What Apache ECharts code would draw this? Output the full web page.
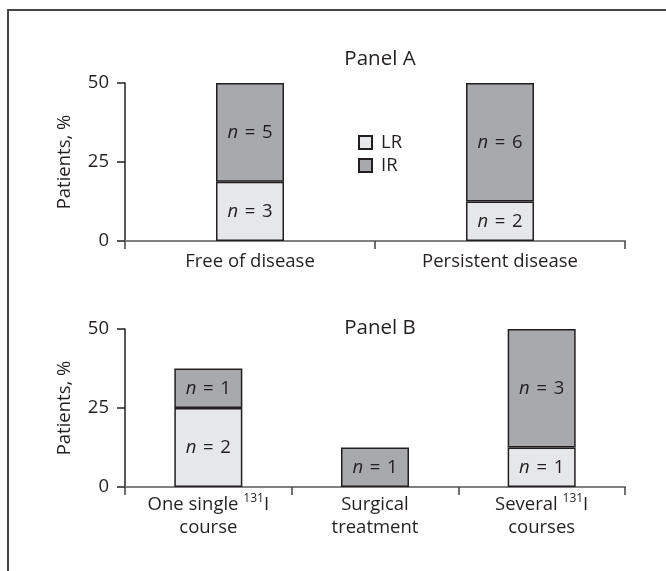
<!DOCTYPE html>
<html>
<head>
<meta charset="utf-8">
<script src="https://cdn.jsdelivr.net/npm/echarts@6/dist/echarts.min.js"></script>
<style>
  html, body { margin: 0; padding: 0; background: #fff; }
  #chart { width: 666px; height: 571px; }
</style>
</head>
<body>
<div id="chart"></div>
<script>
// panel A: outcome
const categoriesA = ['Free of disease', 'Persistent disease']
const lrA = [18.75, 12.5]
const irA = [31.25, 37.5]
const lrCountA = [3, 2]
const irCountA = [5, 6]

// panel B: treatment
const categoriesB = ['One single {sup|131}I\ncourse', 'Surgical\ntreatment', 'Several {sup|131}I\ncourses']
const lrB = [25, null, 12.5]
const irB = [12.5, 12.5, 37.5]
const lrCountB = [2, null, 1]
const irCountB = [1, 1, 3]

const yTicks = [0, 25, 50]

const FONT = '"Open Sans", "Noto Sans", sans-serif'
const FS = 18.5
const INK = '#231f20'
const LR_COLOR = '#e6e7e8'
const IR_COLOR = '#a7a9ac'

const chart = echarts.init(document.getElementById('chart'))

function nLabel(counts) {
  return {
    show: true,
    position: 'inside',
    fontFamily: FONT,
    fontSize: FS,
    color: INK,
    // hair spaces: the original sets "n = 5" slightly wider than normal spaces
    formatter: p => counts[p.dataIndex] == null ? '' : '{i|n} \u200a=\u200a ' + counts[p.dataIndex],
    rich: {
      i: { fontStyle: 'italic', fontFamily: FONT, fontSize: FS, color: INK },
    },
  }
}

function barSeries(name, data, counts, color, idx) {
  return {
    name: name,
    type: 'bar',
    stack: 'p' + idx,
    xAxisIndex: idx,
    yAxisIndex: idx,
    barWidth: 68,
    data: data,
    itemStyle: {
      color: color,
      borderColor: INK,
      borderWidth: 1.5,
    },
    label: nLabel(counts),
    emphasis: { disabled: true },
    animation: false,
  }
}

function xAxis(cats, idx) {
  return {
    type: 'category',
    gridIndex: idx,
    data: cats,
    axisLine: { lineStyle: { color: '#808080', width: 2 } },
    axisTick: { show: true, length: 8, lineStyle: { color: '#444', width: 1.5 } },
    axisLabel: {
      interval: 0,
      fontFamily: FONT,
      fontSize: FS,
      color: INK,
      margin: idx === 0 ? 9 : 6,
      lineHeight: 23,
      rich: {
        sup: { fontFamily: FONT, fontSize: 12, color: INK, verticalAlign: 'top', lineHeight: 23 },
      },
    },
  }
}

function yAxis(idx) {
  return {
    type: 'value',
    gridIndex: idx,
    min: yTicks[0],
    max: yTicks[yTicks.length - 1],
    interval: yTicks[1] - yTicks[0],
    name: 'Patients, %',
    nameLocation: 'middle',
    nameRotate: 90,
    nameGap: 51,
    nameTextStyle: { fontFamily: FONT, fontSize: FS, color: INK },
    axisLine: { show: true, lineStyle: { color: INK, width: 1.5 } },
    axisTick: { show: true, length: 8, lineStyle: { color: INK, width: 1.5 } },
    axisLabel: { fontFamily: FONT, fontSize: FS, color: INK, margin: 16 },
    splitLine: { show: false },
  }
}

chart.setOption({
  backgroundColor: '#fff',
  animation: false,
  title: [
    {
      text: 'Panel A',
      left: 375,
      top: 44,
      textAlign: 'center',
      textStyle: { fontFamily: FONT, fontSize: 20.5, fontWeight: 'normal', color: INK },
    },
    {
      text: 'Panel B',
      left: 375,
      top: 313,
      textAlign: 'center',
      textStyle: { fontFamily: FONT, fontSize: 20.5, fontWeight: 'normal', color: INK },
    },
  ],
  legend: {
    data: ['LR', 'IR'],
    orient: 'vertical',
    left: 353,
    top: 128,
    itemWidth: 13,
    itemHeight: 13,
    itemGap: 4,
    icon: 'rect',
    selectedMode: false,
    textStyle: { fontFamily: FONT, fontSize: FS, color: INK, padding: [0, 0, 0, 4] },
  },
  grid: [
    { left: 125, right: 41, top: 83, bottom: 330 },
    { left: 125, right: 41, top: 329, bottom: 84 },
  ],
  xAxis: [xAxis(categoriesA, 0), xAxis(categoriesB, 1)],
  yAxis: [yAxis(0), yAxis(1)],
  series: [
    barSeries('LR', lrA, lrCountA, LR_COLOR, 0),
    barSeries('IR', irA, irCountA, IR_COLOR, 0),
    barSeries('LR', lrB, lrCountB, LR_COLOR, 1),
    barSeries('IR', irB, irCountB, IR_COLOR, 1),
  ],
  graphic: [
    {
      type: 'polyline',
      shape: { points: [[8, 571], [8, 10], [666, 10]] },
      style: { stroke: '#444', lineWidth: 2, fill: null },
    },
  ],
})
</script>
</body>
</html>
